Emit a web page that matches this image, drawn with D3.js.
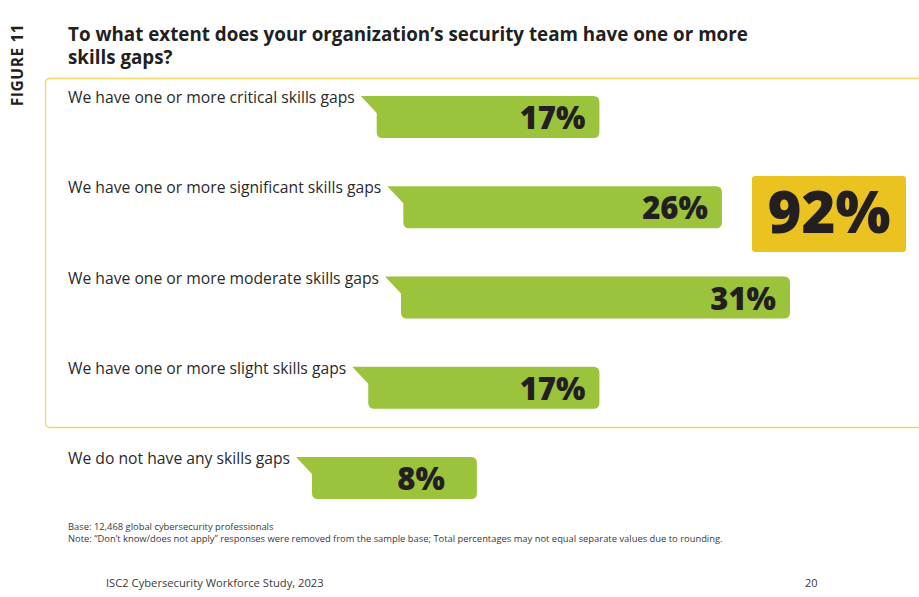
<!DOCTYPE html>
<html>
<head>
<meta charset="utf-8">
<script src="https://cdn.jsdelivr.net/npm/d3@7"></script>
<style>
  html, body { margin: 0; padding: 0; background: #fff; }
  svg { display: block; font-family: "Open Sans", "Noto Sans", sans-serif; }
</style>
</head>
<body>
<svg id="chart" width="919" height="597"></svg>
<script>
// ---- data ----
const categories = [
  "We have one or more critical skills gaps",
  "We have one or more significant skills gaps",
  "We have one or more moderate skills gaps",
  "We have one or more slight skills gaps",
  "We do not have any skills gaps"
];
const values = [17, 26, 31, 17, 8];
const totalLabel = "92%";
const titleLines = [
  "To what extent does your organization\u2019s security team have one or more",
  "skills gaps?"
];
const figureLabel = "FIGURE 11";
const notes = [
  "Base: 12,468 global cybersecurity professionals",
  "Note: \u201CDon\u2019t know/does not apply\u201D responses were removed from the sample base; Total percentages may not equal separate values due to rounding."
];
const footerText = "ISC2 Cybersecurity Workforce Study, 2023";
const pageNumber = "20";

// ---- setup ----
const svg = d3.select("#chart");
const GREEN = "#9bc43c", YELLOW = "#ebc320", BOX = "#f1d66a", DARK = "#231f20";

const x = d3.scaleLinear().domain([0, 31]).range([368, 790]);
const y = d3.scalePoint().domain(categories).range([96, 457]);
const barH = 42;

// Figure label
svg.append("text")
  .attr("transform", "translate(23,65) rotate(-90)")
  .attr("text-anchor", "middle")
  .attr("font-size", 15.5).attr("font-weight", 700)
  .attr("letter-spacing", 0.6)
  .attr("fill", DARK)
  .text(figureLabel);

// Title
svg.append("g").selectAll("text").data(titleLines).join("text")
  .attr("x", 68).attr("y", (d, i) => 41 + i * 23)
  .attr("font-size", 18.8).attr("font-weight", 700)
  .attr("fill", DARK)
  .text(d => d);

// Yellow bracket box
svg.append("path")
  .attr("d", "M919,78.5 L50,78.5 Q45.5,78.5 45.5,83 L45.5,423 Q45.5,427.5 50,427.5 L919,427.5")
  .attr("fill", "none").attr("stroke", BOX).attr("stroke-width", 1.3);

// Rows
const rows = svg.append("g").selectAll("g").data(categories).join("g");

rows.each(function(cat, i) {
  const g = d3.select(this);
  const top = y(cat);
  const label = g.append("text")
    .attr("x", 68).attr("y", top + 7)
    .attr("font-size", 15.7).attr("fill", "#2a2a2a")
    .text(cat);
  const tip = 68 + label.node().getComputedTextLength() + 6;
  const left = tip + 16;
  const right = x(values[i]);
  const bot = top + barH;
  const r = 6;
  const p = d3.path();
  p.moveTo(tip, top);
  p.lineTo(right - r, top);
  p.quadraticCurveTo(right, top, right, top + r);
  p.lineTo(right, bot - r);
  p.quadraticCurveTo(right, bot, right - r, bot);
  p.lineTo(left + r, bot);
  p.quadraticCurveTo(left, bot, left, bot - r);
  p.lineTo(left, top + 17);
  p.closePath();
  g.append("path").attr("d", p.toString()).attr("fill", GREEN);

  const digits = String(values[i]).length;
  g.append("text")
    .attr("x", right - 14 - (2 - digits) * 18)
    .attr("y", top + 33)
    .attr("text-anchor", "end")
    .attr("font-size", 31).attr("font-weight", 800)
    .attr("fill", DARK)
    .text(values[i] + "%");
});

// Total box
svg.append("rect")
  .attr("x", 752).attr("y", 176).attr("width", 154).attr("height", 76)
  .attr("rx", 3).attr("fill", YELLOW);
svg.append("text")
  .attr("x", 829).attr("y", 233)
  .attr("text-anchor", "middle")
  .attr("font-size", 58).attr("font-weight", 800)
  .attr("fill", DARK)
  .text(totalLabel);

// Notes
svg.append("g").selectAll("text").data(notes).join("text")
  .attr("x", 68).attr("y", (d, i) => 530 + i * 12)
  .attr("font-size", 9.4).attr("fill", "#3a3a3a")
  .text(d => d);

// Footer
svg.append("text").attr("x", 106).attr("y", 587)
  .attr("font-size", 11.2).attr("fill", "#3a3a3a").text(footerText);
svg.append("text").attr("x", 805).attr("y", 587)
  .attr("font-size", 11).attr("fill", "#3a3a3a").text(pageNumber);
</script>
</body>
</html>
